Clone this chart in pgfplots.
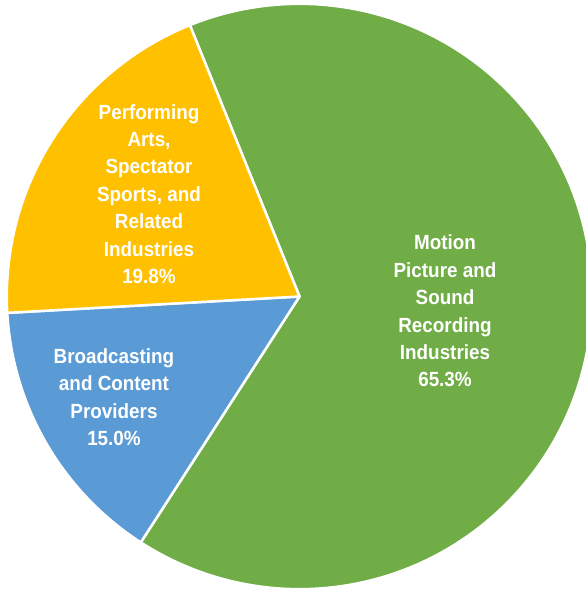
\documentclass[border=0pt]{standalone}
\usepackage{fontspec}
\setmainfont{Liberation Sans}[FakeStretch=0.92]
\usepackage{pgfplots}
\pgfplotsset{compat=1.18}
\definecolor{cgreen}{HTML}{70AD47}
\definecolor{cyellow}{HTML}{FFC000}
\definecolor{cblue}{HTML}{5B9BD5}
\begin{document}
\begin{tikzpicture}
% shares (percent)
\def\pGreen{65.3}
\def\pBlue{15.0}
\def\pYellow{19.8}
\pgfmathsetmacro\tot{\pGreen+\pBlue+\pYellow}
\pgfmathsetmacro\aA{112}
\pgfmathsetmacro\aB{\aA-3.6*(\pGreen/\tot)*100}
\pgfmathsetmacro\aC{\aB-3.6*(\pBlue/\tot)*100}
\pgfmathsetmacro\aD{\aC-3.6*(\pYellow/\tot)*100}
\def\R{292.7}
\begin{axis}[hide axis, scale only axis, width=586pt, height=589pt,
  xmin=-299.5, xmax=286.5, ymin=-292.5, ymax=296.5, clip=true]
\addplot[fill=cgreen, draw=white, line width=2.5pt, line join=round, domain=\aB:\aA, samples=150]
  ({\R*cos(x)},{\R*sin(x)}) -- (axis cs:0,0) -- cycle;
\addplot[fill=cblue, draw=white, line width=2.5pt, line join=round, domain=\aC:\aB, samples=50]
  ({\R*cos(x)},{\R*sin(x)}) -- (axis cs:0,0) -- cycle;
\addplot[fill=cyellow, draw=white, line width=2.5pt, line join=round, domain=\aD:\aC, samples=60]
  ({\R*cos(x)},{\R*sin(x)}) -- (axis cs:0,0) -- cycle;
\node[align=center, text=white, font=\bfseries\fontsize{20.5}{27.4}\selectfont] at (axis cs:145.5,-14.5)
  {Motion\\Picture and\\Sound\\Recording\\Industries\\65.3\%};
\node[align=center, text=white, font=\bfseries\fontsize{20.5}{27.4}\selectfont] at (axis cs:-150.5,102.5)
  {Performing\\Arts,\\Spectator\\Sports, and\\Related\\Industries\\19.8\%};
\node[align=center, text=white, font=\bfseries\fontsize{20.5}{27.4}\selectfont] at (axis cs:-185.5,-100.5)
  {Broadcasting\\and Content\\Providers\\15.0\%};
\end{axis}
\pgfresetboundingbox
\useasboundingbox (current axis.south west) rectangle (current axis.north east);
\end{tikzpicture}
\end{document}
